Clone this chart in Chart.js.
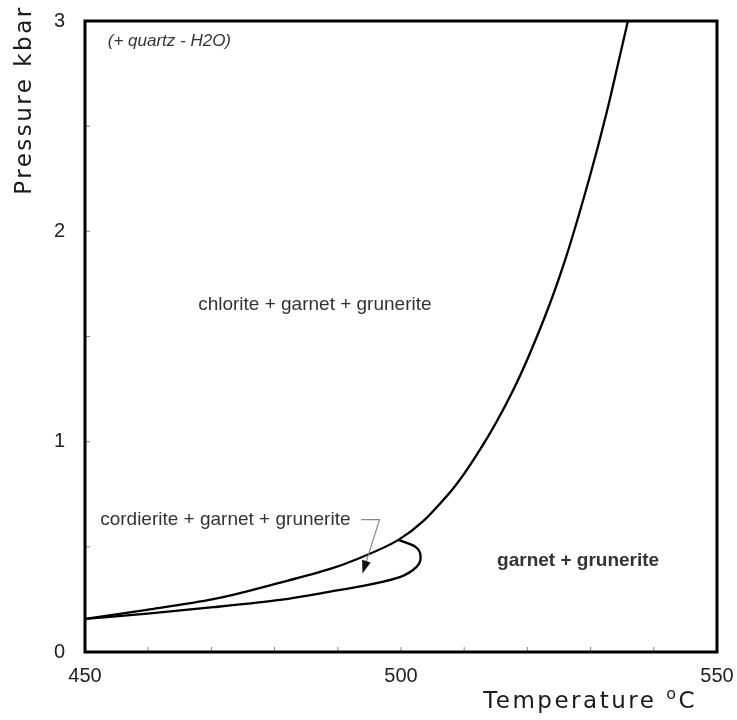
<!DOCTYPE html>
<html>
<head>
<meta charset="utf-8">
<script src="https://cdn.jsdelivr.net/npm/chart.js@4.4.0/dist/chart.umd.min.js"></script>
<style>
  body { margin: 0; background: #fff; }
  #grafico { display: block; }
</style>
</head>
<body>
<canvas id="grafico" width="737" height="720"></canvas>
<script>
// fronteira principal (lado de baixo ate o topo do grafico)
const tempLimite = [450, 459.8, 470.3, 480.9, 488.8, 493.0, 499.6, 507.2, 512.5, 517.8, 522.7, 526.0, 529.9, 532.5, 534.6, 535.9];
const pressLimite = [0.157, 0.2, 0.251, 0.33, 0.395, 0.441, 0.533, 0.74, 0.962, 1.248, 1.589, 1.867, 2.263, 2.56, 2.83, 3.0];

// laco da cordierita (ramo de baixo ate o nariz e volta)
const tempLaco = [450, 460.3, 470.3, 480.9, 488.8, 494.0, 499.3, 501.9, 503.1, 502.3, 499.6];
const pressLaco = [0.157, 0.184, 0.213, 0.248, 0.287, 0.314, 0.351, 0.39, 0.446, 0.50, 0.533];

const ticksX = [450, 500, 550];
const ticksY = [0, 1, 2, 3];

// rotulos dos campos: [texto, T, P, fonte]
const rotulos = [
    ["(+ quartz - H2O)", 453.6, 2.905, "italic 17px 'Liberation Sans', Arial"],
    ["chlorite + garnet + grunerite", 467.9, 1.652, "19px 'Liberation Sans', Arial"],
    ["cordierite + garnet + grunerite", 452.4, 0.629, "19px 'Liberation Sans', Arial"],
    ["garnet + grunerite", 515.2, 0.433, "bold 19px 'Liberation Sans', Arial"]
];

// seta de indicacao (T, P)
const setaT = [493.7, 496.6, 494.0];
const setaP = [0.629, 0.629, 0.382];

function montarPontos(xs, ys) {
    return xs.map((x, i) => ({ x: x, y: ys[i] }));
}

function zerarPadding(s) {
    s.paddingTop = 0;
    s.paddingBottom = 0;
    s.paddingLeft = 0;
    s.paddingRight = 0;
}

const pluginDesenho = {
    id: "desenho",
    afterDatasetsDraw(chart) {
        const ctx = chart.ctx;
        const sx = chart.scales.x;
        const sy = chart.scales.y;
        const area = chart.chartArea;

        ctx.save();
        // tracos menores, para dentro
        ctx.strokeStyle = "#888";
        ctx.lineWidth = 1;
        for (let t = 460; t < 550; t += 10) {
            const px = sx.getPixelForValue(t);
            ctx.beginPath();
            ctx.moveTo(px, area.bottom);
            ctx.lineTo(px, area.bottom - 5);
            ctx.stroke();
        }
        for (let p = 0.5; p < 3; p += 0.5) {
            const py = sy.getPixelForValue(p);
            ctx.beginPath();
            ctx.moveTo(area.left, py);
            ctx.lineTo(area.left + 5, py);
            ctx.stroke();
        }

        // moldura
        ctx.strokeStyle = "#000";
        ctx.lineWidth = 3;
        ctx.strokeRect(area.left, area.top, area.right - area.left, area.bottom - area.top);

        // rotulos dos campos
        ctx.fillStyle = "#333";
        ctx.textBaseline = "middle";
        ctx.textAlign = "left";
        rotulos.forEach(r => {
            ctx.font = r[3];
            ctx.fillText(r[0], sx.getPixelForValue(r[1]), sy.getPixelForValue(r[2]));
        });

        // seta
        const pts = setaT.map((t, i) => [sx.getPixelForValue(t), sy.getPixelForValue(setaP[i])]);
        ctx.strokeStyle = "#888";
        ctx.lineWidth = 1.2;
        ctx.beginPath();
        ctx.moveTo(pts[0][0], pts[0][1]);
        ctx.lineTo(pts[1][0], pts[1][1]);
        ctx.lineTo(pts[2][0], pts[2][1]);
        ctx.stroke();
        const ang = Math.atan2(pts[2][1] - pts[1][1], pts[2][0] - pts[1][0]);
        ctx.fillStyle = "#111";
        ctx.beginPath();
        ctx.moveTo(pts[2][0] + Math.cos(ang) * 2, pts[2][1] + Math.sin(ang) * 2);
        ctx.lineTo(pts[2][0] - Math.cos(ang) * 11 - Math.sin(ang) * 4.5, pts[2][1] - Math.sin(ang) * 11 + Math.cos(ang) * 4.5);
        ctx.lineTo(pts[2][0] - Math.cos(ang) * 11 + Math.sin(ang) * 4.5, pts[2][1] - Math.sin(ang) * 11 - Math.cos(ang) * 4.5);
        ctx.closePath();
        ctx.fill();

        // titulos dos eixos
        ctx.fillStyle = "#1a1a1a";
        ctx.font = "23px 'DejaVu Sans'";
        ctx.letterSpacing = "2.5px";
        ctx.textBaseline = "alphabetic";
        const txt = "Temperature ";
        const wTxt = ctx.measureText(txt).width;
        const wC = ctx.measureText("C").width;
        ctx.font = "16px 'DejaVu Sans'";
        const wO = ctx.measureText("o").width;
        const fim = 697;
        const ini = fim - wC - wO - wTxt;
        ctx.font = "23px 'DejaVu Sans'";
        ctx.fillText(txt, ini, 708);
        ctx.fillText("C", fim - wC, 708);
        ctx.font = "16px 'DejaVu Sans'";
        ctx.fillText("o", ini + wTxt, 699);

        ctx.font = "23px 'DejaVu Sans'";
        ctx.translate(31, 100);
        ctx.rotate(-Math.PI / 2);
        ctx.textAlign = "center";
        ctx.fillText("Pressure kbar", 0, 0);
        ctx.restore();
    }
};

function criarGrafico(canvasElement) {
    const ctx = canvasElement.getContext("2d");
    return new Chart(ctx, {
        type: "scatter",
        data: {
            datasets: [{
                data: montarPontos(tempLimite, pressLimite),
                indexAxis: "y",
                showLine: true,
                borderColor: "#000",
                borderWidth: 2.3,
                pointRadius: 0,
                cubicInterpolationMode: "monotone",
                fill: false
            }, {
                data: montarPontos(tempLaco, pressLaco),
                indexAxis: "y",
                showLine: true,
                borderColor: "#000",
                borderWidth: 2.3,
                pointRadius: 0,
                cubicInterpolationMode: "monotone",
                fill: false
            }]
        },
        options: {
            responsive: false,
            animation: false,
            layout: { padding: { top: 21, right: 20, left: 0, bottom: 0 } },
            plugins: { legend: { display: false }, tooltip: { enabled: false } },
            scales: {
                x: {
                    type: "linear",
                    min: 450,
                    max: 550,
                    afterFit: s => { s.height = 68; zerarPadding(s); },
                    afterBuildTicks: s => { s.ticks = ticksX.map(v => ({ value: v })); },
                    grid: { display: false, drawTicks: false },
                    border: { display: false },
                    ticks: { padding: 12, color: "#222", font: { family: "'Liberation Sans', Arial", size: 20 } }
                },
                y: {
                    type: "linear",
                    min: 0,
                    max: 3,
                    afterFit: s => { s.width = 85; zerarPadding(s); },
                    afterBuildTicks: s => { s.ticks = ticksY.map(v => ({ value: v })); },
                    grid: { display: false, drawTicks: false },
                    border: { display: false },
                    ticks: { padding: 20, color: "#222", font: { family: "'Liberation Sans', Arial", size: 20 } }
                }
            }
        },
        plugins: [pluginDesenho]
    });
}

criarGrafico(document.getElementById("grafico"));
</script>
</body>
</html>
